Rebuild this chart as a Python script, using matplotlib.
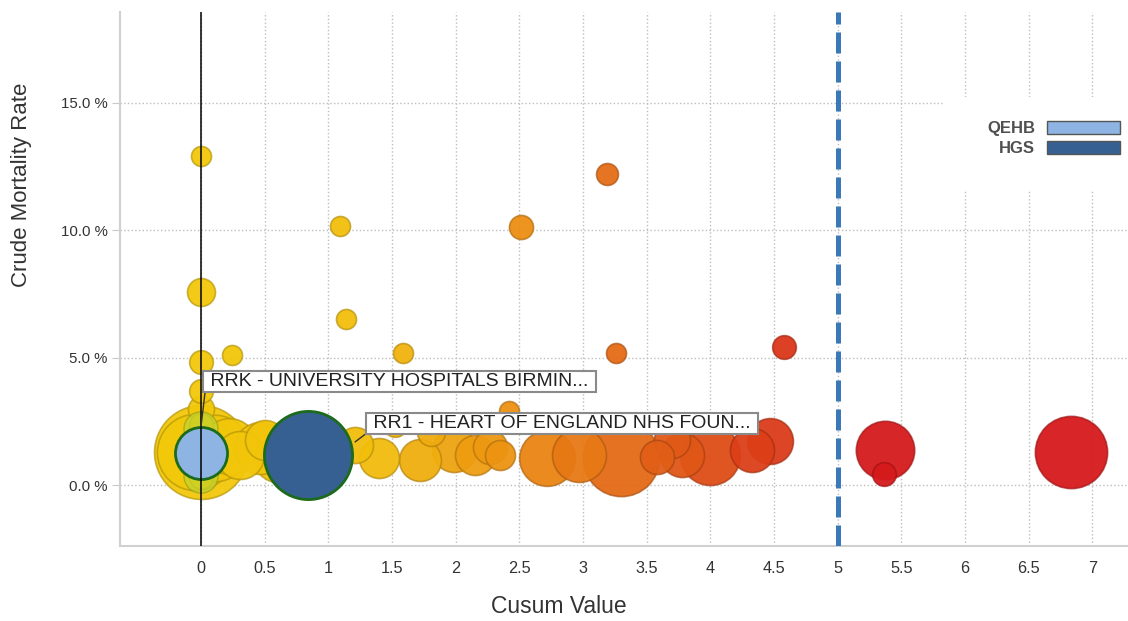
# Cusum bubble chart - crude mortality rate vs cusum value
import matplotlib
matplotlib.use('Agg')
import matplotlib.pyplot as plt
from matplotlib.colors import LinearSegmentedColormap, to_rgba
from matplotlib.patches import Patch, Rectangle
import numpy as np

# Data: other trusts (cusum value, crude mortality %, admissions)
cusum = [0.00, 3.19, 1.09, 2.51, 0.00, 1.14, 0.24, 1.59, 3.26, 4.58,
         0.00, 0.00, 0.00, 2.42, 1.52,
         0.00, -0.05, 0.11, 0.22, 0.31, 0.46, 0.50, 0.63, 0.00, 0.00,
         1.21, 1.40, 1.72, 1.81, 1.99, 2.15, 2.27, 2.35,
         2.72, 2.97, 3.30, 3.58, 3.78, 3.70, 4.00, 4.33, 4.47,
         5.37, 5.36, 6.83]
mortality = [12.9, 12.2, 10.15, 10.1, 7.57, 6.5, 5.1, 5.18, 5.18, 5.4,
             4.82, 3.7, 3.0, 2.9, 2.35,
             1.29, 1.29, 1.45, 1.55, 1.18, 1.45, 1.75, 1.25, 2.35, 0.3,
             1.57, 1.06, 0.98, 2.08, 1.37, 1.18, 1.49, 1.18,
             1.06, 1.18, 1.06, 1.10, 1.18, 1.76, 1.18, 1.37, 1.73,
             1.37, 0.43, 1.29]
admissions = [400, 480, 400, 580, 780, 400, 400, 400, 400, 560,
              560, 560, 680, 400, 560,
              8800, 5800, 4400, 3100, 2300, 2700, 1600, 3600, 560, 560,
              1300, 1600, 1760, 780, 1940, 1600, 1160, 900,
              3100, 2900, 5800, 1160, 1940, 1300, 3600, 1940, 2100,
              3400, 560, 5200]

# Highlighted trusts
hl_names = ['QEHB', 'HGS']
hl_cusum = [0.00, 0.84]
hl_mortality = [1.25, 1.18]
hl_admissions = [2700, 7744]
hl_colors = ['#8db4e2', '#376092']

labels = [' RRK - UNIVERSITY HOSPITALS BIRMIN... ',
          ' RR1 - HEART OF ENGLAND NHS FOUN... ']
threshold = 5

yticks = [0, 5, 10, 15]
xticks = [0, 0.5, 1, 1.5, 2, 2.5, 3, 3.5, 4, 4.5, 5, 5.5, 6, 6.5, 7]

# Colours along cusum value
cmap = LinearSegmentedColormap.from_list(
    'cusum', [(0.0, '#f2c80a'), (0.25, '#f2bd0c'), (0.45, '#ec9112'),
              (0.6, '#e46c16'), (0.8, '#dc4018'), (1.0, '#d5191c')])

fig = plt.figure(figsize=(11.28, 6.21), dpi=100)
ax = fig.add_axes([0.1064, 0.1208, 0.8936, 0.8599])

ax.set_xlim(-0.636, 7.28)
ax.set_ylim(-2.39, 18.55)

# Grid
ax.set_axisbelow(True)
ax.grid(True, linestyle=':', color='#bdbdbd', linewidth=1)

# Bubbles, big ones first
order = np.argsort(admissions)[::-1]
for i in order:
    c = cmap(np.clip(cusum[i], 0, 5.4) / 5.4)
    edge = tuple(np.array(c[:3]) * 0.75) + (0.7,)
    ax.scatter(cusum[i], mortality[i], s=admissions[i] * 0.52,
               color=to_rgba(c, 0.95), edgecolors=[edge], linewidths=1.2,
               zorder=3)

# Lighter green-ish bubbles around the origin
ax.scatter([0, 0], [2.2, 0.35], s=[600, 600], color=to_rgba('#c5d32c', 0.75),
           edgecolors=[to_rgba('#8a9a20', 0.6)], linewidths=1, zorder=4)

for i in range(len(hl_names)):
    ax.scatter(hl_cusum[i], hl_mortality[i], s=hl_admissions[i] * 0.52,
               color=hl_colors[i], edgecolors='#1c6a1c', linewidths=2,
               zorder=5)

# Reference lines
ax.axvline(0, color='black', linewidth=1.1, zorder=6)
ax.axvline(threshold, color='#3a78b8', linewidth=3.6, dashes=(4.2, 1.6),
           zorder=6)

# Labels
box = dict(boxstyle='square,pad=0.12', facecolor='white',
           edgecolor='#8a8a8a', linewidth=1.5)
arrow = dict(arrowstyle='-', color='#333333', lw=1, shrinkA=0, shrinkB=0,
             relpos=(0, 0))
ax.annotate(labels[0], xy=(0.0, 2.3), xytext=(0.034, 4.06),
            fontsize=14, family='Liberation Sans', color='#222222',
            va='center', ha='left', bbox=box, zorder=8, arrowprops=arrow)
ax.annotate(labels[1], xy=(1.21, 1.69), xytext=(1.312, 2.41),
            fontsize=14, family='Liberation Sans', color='#222222',
            va='center', ha='left', bbox=box, zorder=8, arrowprops=arrow)

# Axes styling
for s in ['top', 'right']:
    ax.spines[s].set_visible(False)
for s in ['left', 'bottom']:
    ax.spines[s].set_color('#d0d0d0')
    ax.spines[s].set_linewidth(1.5)

ax.set_yticks(yticks)
ax.set_yticklabels(['%.1f %%' % v for v in yticks],
                   family='Liberation Sans', fontsize=10.8, color='#333333')
ax.set_xticks(xticks)
ax.set_xticklabels(['%g' % v for v in xticks],
                   family='Liberation Sans', fontsize=11.7, color='#333333')
ax.tick_params(axis='y', length=6, color='#c8c8c8', pad=3)
ax.tick_params(axis='x', length=0, pad=11)

ax.set_ylabel('Crude Mortality Rate', family='Liberation Sans',
              fontsize=16, color='#333333')
ax.yaxis.set_label_coords(-0.0873, 0.676)
ax.set_xlabel('Cusum Value', family='Liberation Sans',
              fontsize=16.5, color='#333333')
ax.xaxis.set_label_coords(0.435, -0.092)

# Legend on a white panel
ax.add_patch(Rectangle((945 / 1128, (621 - 190) / 621), 183 / 1128, 93 / 621,
                       transform=fig.transFigure, facecolor='white',
                       edgecolor='none', zorder=8.5, clip_on=False))
handles = [Patch(facecolor=hl_colors[i], edgecolor='#555555', linewidth=1,
                 label=hl_names[i]) for i in range(len(hl_names))]
leg = ax.legend(handles=handles, loc='upper right', markerfirst=False,
                bbox_to_anchor=(1120 / 1128, (621 - 121) / 621),
                bbox_transform=fig.transFigure, frameon=False,
                borderaxespad=0, borderpad=0,
                handlelength=4.37, handleheight=0.78,
                labelspacing=0.3, handletextpad=0.72,
                prop={'family': 'Liberation Sans', 'size': 12, 'weight': 'bold'})
for t in leg.get_texts():
    t.set_color('#505050')
leg.set_zorder(9)

plt.savefig('out.png', dpi=100)
